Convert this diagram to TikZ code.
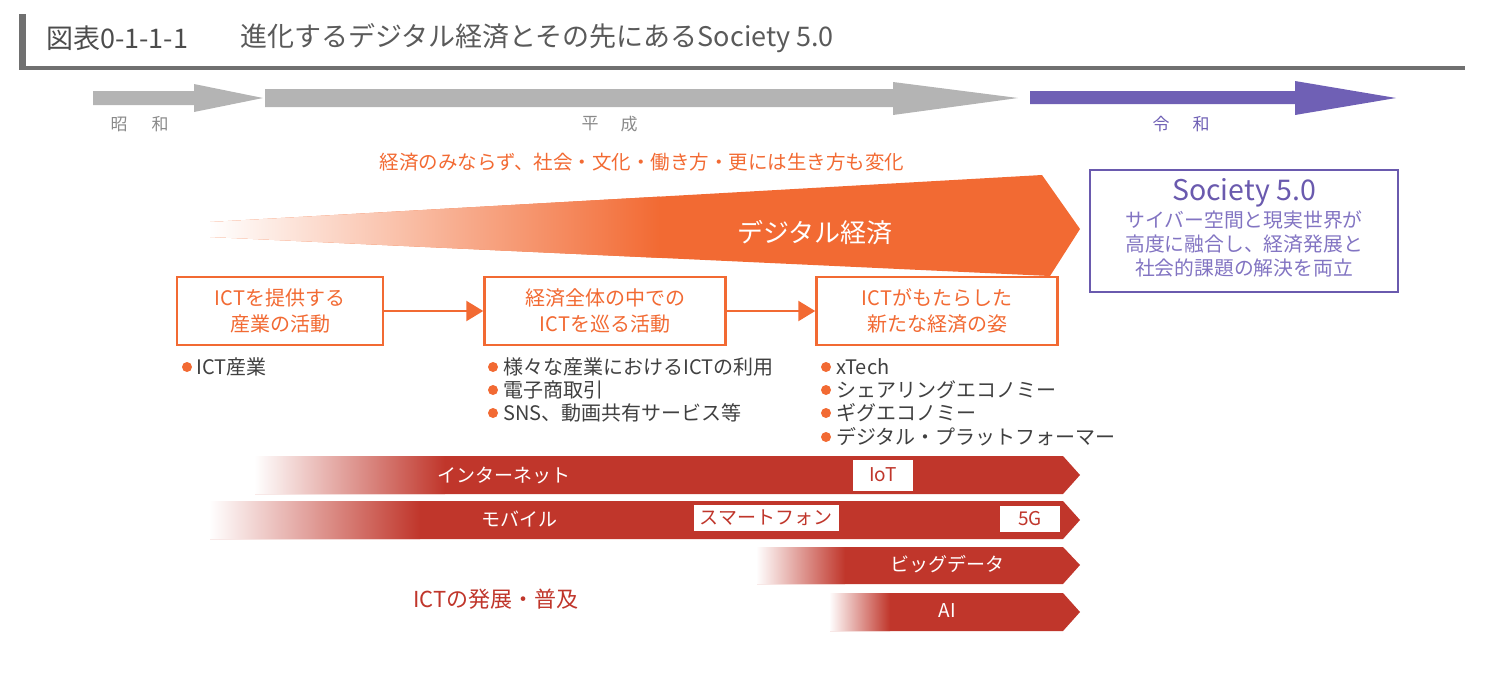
\documentclass[tikz,border=0pt]{standalone}
\usepackage{fontspec}
\setmainfont{Noto Sans CJK JP}
\usetikzlibrary{arrows.meta}
\definecolor{barg}{HTML}{707070}
\definecolor{titletxt}{HTML}{5A5A5A}
\definecolor{erag}{HTML}{B4B4B4}
\definecolor{eratxt}{HTML}{8A8A8A}
\definecolor{reiwa}{HTML}{6F60B5}
\definecolor{orng}{HTML}{F26A33}
\definecolor{ictred}{HTML}{C0362B}
\definecolor{purp}{HTML}{6A5AAE}
\definecolor{lpurp}{HTML}{8274C2}
\definecolor{bodytxt}{HTML}{404040}
\newcommand{\fs}[1]{\fontsize{#1}{#1}\selectfont}
\tikzset{
  stagebox/.style={draw=orng, line width=2.5pt, minimum height=68pt, align=center,
     text=orng, font=\fontsize{20}{26}\selectfont, inner sep=0pt},
  conn/.style={draw=orng, line width=2.5pt, -{Triangle[length=17pt,width=20pt]}},
  bullet/.style={anchor=west, text=bodytxt, font=\fs{20}, inner sep=0pt},
  bdot/.style={circle, fill=orng, minimum size=10pt, inner sep=0pt},
  bandtxt/.style={text=white, font=\fs{19}, inner sep=0pt},
  tag/.style={fill=white, text=ictred, font=\fs{19}, inner sep=0pt, minimum height=26pt},
  eralbl/.style={font=\fs{17}, inner sep=0pt},
}
\begin{document}
\begin{tikzpicture}[x=1pt,y=-1pt]
\useasboundingbox (0,0) rectangle (1487,694);
% title
\fill[barg] (19,14) rectangle (26,69);
\fill[barg] (19,66) rectangle (1465,70);
\node[anchor=west, text=titletxt!85!black, font=\fs{27}, inner sep=0pt] (fignum) at (46,38) {図表0-1-1-1};
\node[anchor=west, text=titletxt, font=\fs{27}, inner sep=0pt] (title) at (240,38) {進化するデジタル経済とその先にあるSociety 5.0};
% era arrows
\fill[erag] (93,91) -- (194,91) -- (194,84) -- (263,98) -- (194,112) -- (194,105) -- (93,105) -- cycle;
\fill[erag] (265,89) -- (893,89) -- (893,82) -- (1018,98) -- (893,115) -- (893,107) -- (265,107) -- cycle;
\fill[reiwa] (1030,91) -- (1295,91) -- (1295,81) -- (1396,98) -- (1295,115) -- (1295,104) -- (1030,104) -- cycle;
\node[eralbl, text=eratxt] (sho) at (119,124) {昭};
\node[eralbl, text=eratxt] (wa1) at (160,124) {和};
\node[eralbl, text=eratxt] (hei) at (590,124) {平};
\node[eralbl, text=eratxt] (sei) at (629,124) {成};
\node[eralbl, text=reiwa] (rei) at (1161,124) {令};
\node[eralbl, text=reiwa] (wa2) at (1201,124) {和};
% digital economy wedge
\node[text=orng, font=\fs{19.5}, inner sep=0pt] (change) at (642,162) {経済のみならず、社会・文化・働き方・更には生き方も変化};
\begin{scope}
  \clip (210,222) -- (1042,175) -- (1080,229) -- (1050,276) -- (210,237) -- cycle;
  \fill[orng] (200,170) rectangle (1090,280);
  \shade[left color=white, right color=orng] (209,170) rectangle (660,280);
\end{scope}
\node[text=white, font=\fs{26}, inner sep=0pt] (digi) at (815,233) {デジタル経済};
% Society 5.0
\node[draw=purp, line width=2.5pt, minimum width=308pt, minimum height=122pt, inner sep=0pt] (soc) at (1244,231) {};
\node[text=purp, font=\fs{28.5}, inner sep=0pt] (soct) at (1244,193) {Society 5.0};
\node[text=lpurp, font=\fs{19.8}, inner sep=0pt] (soc1) at (1244,220) {サイバー空間と現実世界が};
\node[text=lpurp, font=\fs{19.8}, inner sep=0pt] (soc2) at (1244,244) {高度に融合し、経済発展と};
\node[text=lpurp, font=\fs{19.8}, inner sep=0pt] (soc3) at (1244,268) {社会的課題の解決を両立};
% stage boxes
\node[stagebox, fill=white, minimum width=206pt] (b1) at (280,311) {ICTを提供する\\産業の活動};
\node[stagebox, fill=white, minimum width=241pt] (b2) at (605,311) {経済全体の中での\\ICTを巡る活動};
\node[stagebox, fill=white, minimum width=241pt] (b3) at (937,311) {ICTがもたらした\\新たな経済の姿};
\draw[conn] (b1) -- (b2);
\draw[conn] (b2) -- (b3);
% bullets
\node[bdot] (d11) at (187,367) {};
\node[bullet] (t11) at (196,367) {ICT産業};
\node[bdot] (d21) at (493,367) {};
\node[bullet] (t21) at (503,367) {様々な産業におけるICTの利用};
\node[bdot] (d22) at (493,390) {};
\node[bullet] (t22) at (503,390) {電子商取引};
\node[bdot] (d23) at (493,413) {};
\node[bullet] (t23) at (503,413) {SNS、動画共有サービス等};
\node[bdot] (d31) at (826,367) {};
\node[bullet] (t31) at (836,367) {xTech};
\node[bdot] (d32) at (826,390) {};
\node[bullet] (t32) at (836,390) {シェアリングエコノミー};
\node[bdot] (d33) at (826,413) {};
\node[bullet] (t33) at (836,413) {ギグエコノミー};
\node[bdot] (d34) at (826,437) {};
\node[bullet] (t34) at (836,437) {デジタル・プラットフォーマー};
% ICT bands
\begin{scope}
  \clip (255,456) -- (1063,456) -- (1080,475) -- (1063,494) -- (255,494) -- cycle;
  \fill[ictred] (250,450) rectangle (1090,500);
  \shade[left color=white, right color=ictred] (254,450) rectangle (445,500);
\end{scope}
\begin{scope}
  \clip (210,501) -- (1063,501) -- (1080,520) -- (1063,539) -- (210,539) -- cycle;
  \fill[ictred] (205,495) rectangle (1090,545);
  \shade[left color=white, right color=ictred] (209,495) rectangle (420,545);
\end{scope}
\begin{scope}
  \clip (757,547) -- (1063,547) -- (1080,565) -- (1063,584) -- (757,584) -- cycle;
  \fill[ictred] (750,540) rectangle (1090,590);
  \shade[left color=white, right color=ictred] (756,540) rectangle (845,590);
\end{scope}
\begin{scope}
  \clip (830,593) -- (1063,593) -- (1080,612) -- (1063,631) -- (830,631) -- cycle;
  \fill[ictred] (825,588) rectangle (1090,636);
  \shade[left color=white, right color=ictred] (829,588) rectangle (890,636);
\end{scope}
\node[bandtxt] (inet) at (504,475) {インターネット};
\node[bandtxt] (mob) at (519,519) {モバイル};
\node[bandtxt] (big) at (947,564) {ビッグデータ};
\node[bandtxt] (ai) at (947,611) {AI};
\node[tag, minimum width=60pt, minimum height=31pt] (iot) at (883,475) {IoT};
\node[tag, minimum width=145pt] (smart) at (766,518) {スマートフォン};
\node[tag, minimum width=60pt] (fiveg) at (1030,519) {5G};
\node[text=ictred, font=\fs{22}, inner sep=0pt] (ictdev) at (496,599) {ICTの発展・普及};
\end{tikzpicture}
\end{document}
